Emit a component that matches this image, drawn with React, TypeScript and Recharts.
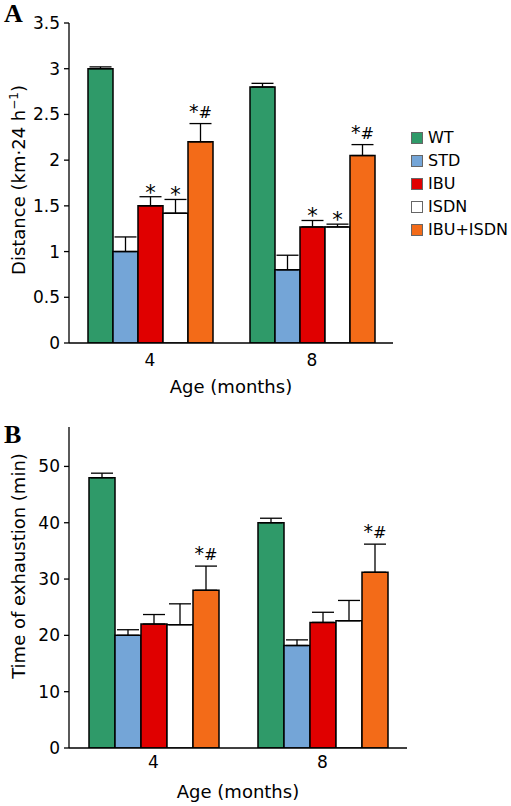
import { Bar, BarChart, ErrorBar, Label, LabelList, Legend, XAxis, YAxis } from "recharts";

const FONT = "'DejaVu Sans', Verdana, sans-serif";

const AGES = ["4", "8"];
const SERIES = ["WT", "STD", "IBU", "ISDN", "IBU+ISDN"];
const KEYS = ["wt", "std", "ibu", "isdn", "combo"];
const COLORS = ["#2f9a69", "#74a5d7", "#e00000", "#ffffff", "#f36b18"];

// panel A: distance (km per 24 h), one value per age
const DIST_WT = [3.0, 2.8];
const DIST_STD = [1.0, 0.8];
const DIST_IBU = [1.5, 1.27];
const DIST_ISDN = [1.42, 1.27];
const DIST_COMBO = [2.2, 2.05];
const DIST_ERR = [
  [0.02, 0.04],
  [0.16, 0.16],
  [0.1, 0.07],
  [0.15, 0.03],
  [0.2, 0.12],
];
const DIST_NOTES = [
  ["", ""],
  ["", ""],
  ["*", "*"],
  ["*", "*"],
  ["*#", "*#"],
];
const DIST_TICKS = [0, 0.5, 1, 1.5, 2, 2.5, 3, 3.5];

// panel B: time of exhaustion (min)
const TIME_WT = [48, 40];
const TIME_STD = [20, 18.2];
const TIME_IBU = [22, 22.3];
const TIME_ISDN = [21.9, 22.6];
const TIME_COMBO = [28, 31.2];
const TIME_ERR = [
  [0.8, 0.8],
  [1.0, 1.0],
  [1.7, 1.8],
  [3.7, 3.6],
  [4.3, 5.0],
];
const TIME_NOTES = [
  ["", ""],
  ["", ""],
  ["", ""],
  ["", ""],
  ["*#", "*#"],
];
const TIME_TICKS = [0, 10, 20, 30, 40, 50];

function buildRows(values: number[][], errors: number[][]) {
  return AGES.map((age, i) => {
    const row: Record<string, any> = { age };
    KEYS.forEach((k, s) => {
      row[k] = values[s][i];
      row[k + "Err"] = [0, errors[s][i]];
    });
    return row;
  });
}

const distRows = buildRows([DIST_WT, DIST_STD, DIST_IBU, DIST_ISDN, DIST_COMBO], DIST_ERR);
const timeRows = buildRows([TIME_WT, TIME_STD, TIME_IBU, TIME_ISDN, TIME_COMBO], TIME_ERR);

// star / hash marks sit just above the error cap
const noteRenderer = (notes: string[], errs: number[], values: number[]) => (props: any) => {
  const { x, y, width, height, index } = props;
  const text = notes[index];
  if (!text) return null;
  const errPx = (errs[index] * height) / values[index];
  const top = y - errPx;
  const cx = x + width / 2;
  if (text === "*") {
    return (
      <text x={cx} y={top + 3} textAnchor="middle" fontFamily={FONT} fontSize={21} fill="#000">
        *
      </text>
    );
  }
  return (
    <text x={cx} y={top - 6} textAnchor="middle" fontFamily={FONT} fontSize={16} fill="#000">
      <tspan fontSize={19}>*</tspan>#
    </text>
  );
};

const renderLegend = () => (
  <div style={{ fontFamily: FONT, fontSize: 16, color: "#000" }}>
    {SERIES.map((name, i) => (
      <div key={name} style={{ display: "flex", alignItems: "center", height: 23 }}>
        <span
          style={{
            display: "inline-block",
            width: 10,
            height: 10,
            background: COLORS[i],
            border: "1px solid #666",
            marginRight: 5,
          }}
        />
        {name}
      </div>
    ))}
  </div>
);

interface PanelProps {
  rows: Record<string, any>[];
  values: number[][];
  errors: number[][];
  notes: string[][];
  ticks: number[];
  domain: [number, number];
  width: number;
  height: number;
  margin: { top: number; right: number; bottom: number; left: number };
  barSize: number;
  tickMargin: number;
  letter: string;
  letterY: number;
  title: React.ReactNode;
  titleY: number;
  legend?: boolean;
}

function Panel(p: PanelProps) {
  return (
    <BarChart width={p.width} height={p.height} data={p.rows} margin={p.margin} barGap={0}>
      <XAxis
        dataKey="age"
        tickLine={false}
        axisLine={{ stroke: "#000", strokeWidth: 1.5 }}
        tick={{ fill: "#000", fontSize: 17, fontFamily: FONT }}
        tickMargin={p.tickMargin}
        height={55}
      >
        <Label
          content={(lp: any) => {
            const vb = lp.viewBox;
            return (
              <text x={vb.x + vb.width / 2} y={vb.y + 50} textAnchor="middle" fontFamily={FONT} fontSize={18} fill="#000">
                Age (months)
              </text>
            );
          }}
        />
      </XAxis>
      <YAxis
        width={69}
        domain={p.domain}
        ticks={p.ticks}
        allowDataOverflow
        interval={0}
        axisLine={{ stroke: "#000", strokeWidth: 1.3 }}
        tickLine={{ stroke: "#000", strokeWidth: 1.3 }}
        tickSize={5}
        tickMargin={4}
        tick={{ fill: "#000", fontSize: 17, fontFamily: FONT }}
      >
        <Label
          content={() => (
            <g>
              <text x={4} y={p.letterY} fontFamily="'Liberation Serif', serif" fontWeight="bold" fontSize={26} fill="#000">
                {p.letter}
              </text>
              <text
                x={25}
                y={p.titleY}
                transform={`rotate(-90, 25, ${p.titleY})`}
                textAnchor="middle"
                fontFamily={FONT}
                fontSize={18}
                fill="#000"
              >
                {p.title}
              </text>
            </g>
          )}
        />
      </YAxis>
      {p.legend && (
        <Legend
          layout="vertical"
          align="center"
          verticalAlign="middle"
          content={renderLegend}
          wrapperStyle={{ left: 411, top: 126, width: 100 }}
        />
      )}
      {KEYS.map((k, s) => (
        <Bar
          key={k}
          dataKey={k}
          name={SERIES[s]}
          fill={COLORS[s]}
          stroke="#000"
          strokeWidth={1.5}
          barSize={p.barSize}
          isAnimationActive={false}
        >
          <ErrorBar dataKey={k + "Err"} width={11} stroke="#000" strokeWidth={1.3} direction="y" />
          <LabelList dataKey={k} content={noteRenderer(p.notes[s], p.errors[s], p.values[s])} />
        </Bar>
      ))}
    </BarChart>
  );
}

export default function App() {
  return (
    <div style={{ position: "absolute", left: 0, top: 0, width: 511, height: 806, background: "#fff" }}>
      <Panel
        rows={distRows}
        values={[DIST_WT, DIST_STD, DIST_IBU, DIST_ISDN, DIST_COMBO]}
        errors={DIST_ERR}
        notes={DIST_NOTES}
        ticks={DIST_TICKS}
        domain={[0, 3.5]}
        width={511}
        height={400}
        margin={{ top: 23, right: 118, bottom: 2, left: 0 }}
        barSize={25}
        tickMargin={5}
        letter="A"
        letterY={22}
        title={
          <>
            Distance (km·24 h
            <tspan fontSize={12} dy={-7}>
              −1
            </tspan>
            <tspan dy={7}>)</tspan>
          </>
        }
        titleY={180}
        legend
      />
      <Panel
        rows={timeRows}
        values={[TIME_WT, TIME_STD, TIME_IBU, TIME_ISDN, TIME_COMBO]}
        errors={TIME_ERR}
        notes={TIME_NOTES}
        ticks={TIME_TICKS}
        domain={[0, 57]}
        width={511}
        height={406}
        margin={{ top: 27, right: 104, bottom: 3, left: 0 }}
        barSize={26}
        tickMargin={2}
        letter="B"
        letterY={43}
        title="Time of exhaustion (min)"
        titleY={166}
      />
    </div>
  );
}
